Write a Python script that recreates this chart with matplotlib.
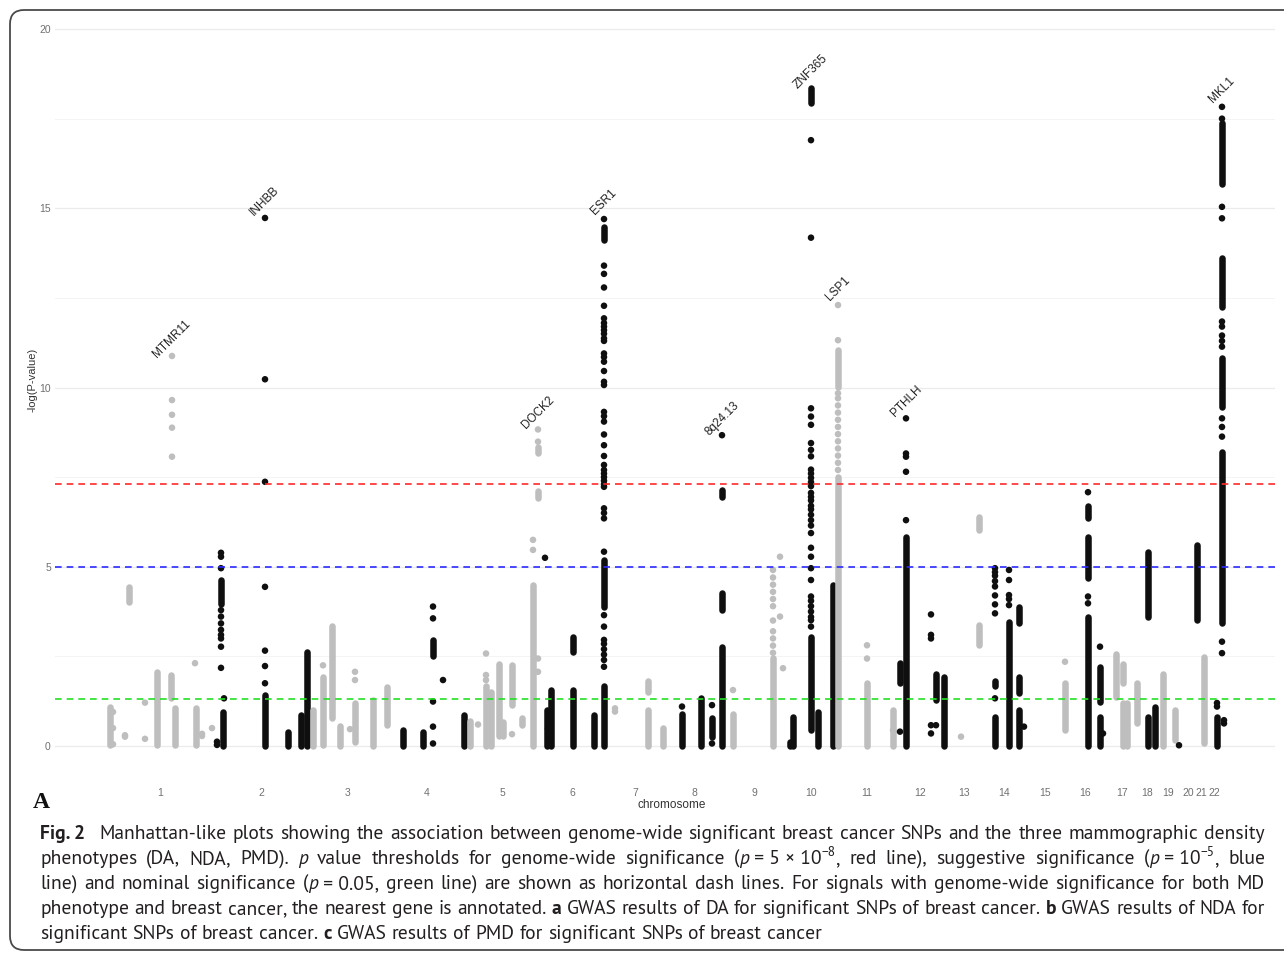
import matplotlib
matplotlib.use("Agg")
import numpy as np
import matplotlib.pyplot as plt
from matplotlib import font_manager
from matplotlib.patches import FancyBboxPatch
from matplotlib.transforms import IdentityTransform
from matplotlib.ticker import MultipleLocator

# chromosome label centres on the cumulative position axis
chrom_ticks = [160, 261, 348, 427, 502, 572, 635, 694, 754, 811, 867, 920,
               964, 1004, 1045, 1085, 1122, 1147, 1168, 1188, 1201, 1214]
chrom_names = [str(c) for c in range(1, 23)]

# dense runs of SNPs: (chromosome, position, lowest, highest -log10 p)
snp_runs = [
    (1, 110, 0.02, 1.10), (1, 129, 4.02, 4.44), (1, 157, 0.02, 2.07), (1, 171, 1.34, 1.98),
    (1, 175, 0.02, 1.07), (1, 196, 0.02, 1.07),
    (2, 221, 3.96, 4.63), (2, 223, 0.00, 0.96), (2, 265, 0.00, 1.43), (2, 288, 0.00, 0.40),
    (2, 301, 0.00, 0.86), (2, 307, 0.00, 2.63),
    (3, 313, 0.00, 1.00), (3, 323, 0.02, 1.93), (3, 332, 0.77, 3.35), (3, 340, 0.00, 0.57),
    (3, 355, 0.10, 1.20), (3, 373, 0.00, 1.28), (3, 387, 0.58, 1.65),
    (4, 403, 0.00, 0.44), (4, 423, 0.00, 0.40), (4, 433, 2.50, 2.96), (4, 464, 0.00, 0.86),
    (5, 470, 0.00, 0.70), (5, 486, 0.00, 1.66), (5, 491, 0.00, 1.50), (5, 499, 0.28, 2.30),
    (5, 503, 0.28, 0.66), (5, 512, 1.13, 2.25), (5, 522, 0.58, 0.77), (5, 533, 0.00, 4.48),
    (5, 538, 6.93, 7.12), (5, 538, 8.16, 8.35),
    (6, 547, 0.00, 1.00), (6, 551, 0.00, 1.56), (6, 573, 0.00, 1.56), (6, 573, 2.63, 3.05),
    (6, 594, 0.00, 0.86), (6, 604, 0.00, 1.66), (6, 604, 3.89, 5.19), (6, 604, 14.11, 14.49),
    (7, 648, 0.00, 1.00), (7, 648, 1.50, 1.80), (7, 663, 0.00, 0.50),
    (8, 682, 0.00, 0.90), (8, 701, 0.00, 1.33), (8, 712, 0.26, 0.77), (8, 722, 0.00, 2.77),
    (8, 722, 3.79, 4.26), (8, 722, 6.95, 7.14),
    (9, 733, 0.00, 0.90), (9, 773, 0.00, 2.45),
    (10, 790, 0.00, 0.10), (10, 793, 0.00, 0.82), (10, 811, 0.45, 3.05), (10, 811, 17.94, 18.35),
    (10, 818, 0.00, 0.96), (10, 833, 0.00, 4.48),
    (11, 838, 0.00, 7.50), (11, 838, 10.02, 11.05), (11, 867, 0.00, 1.75), (11, 893, 0.00, 1.00),
    (12, 900, 1.75, 2.31), (12, 906, 0.00, 5.83), (12, 936, 1.29, 2.00), (12, 944, 0.00, 1.93),
    (13, 979, 6.02, 6.39), (13, 979, 2.81, 3.37),
    (14, 995, 0.00, 0.82), (14, 995, 1.66, 1.80), (14, 1009, 0.00, 3.46), (14, 1019, 0.00, 1.00),
    (14, 1019, 1.47, 1.93), (14, 1019, 3.42, 3.89),
    (15, 1065, 0.45, 1.75),
    (16, 1088, 0.00, 3.61), (16, 1088, 4.70, 5.83), (16, 1088, 6.37, 6.69), (16, 1100, 0.00, 0.82),
    (16, 1100, 1.24, 2.21),
    (17, 1116, 1.38, 2.58), (17, 1123, 0.00, 1.20), (17, 1123, 1.75, 2.30), (17, 1127, 0.00, 1.20),
    (17, 1137, 0.63, 1.75),
    (18, 1148, 0.00, 0.82), (18, 1148, 3.61, 5.42), (18, 1155, 0.00, 1.10),
    (19, 1163, 0.00, 2.02), (19, 1175, 0.17, 1.00),
    (20, 1197, 3.51, 5.60),
    (21, 1204, 0.07, 2.49),
    (22, 1217, 0.00, 0.82), (22, 1222, 3.42, 8.21), (22, 1222, 9.46, 10.81), (22, 1222, 12.25, 13.60),
    (22, 1222, 15.69, 17.37),
]

esr1 = [14.70, 13.40, 13.17, 12.79, 12.28, 11.93, 11.80, 11.70, 11.60, 11.50, 11.37, 11.30,
        10.95, 10.85, 10.72, 10.46, 10.16, 10.07, 9.32, 9.20, 9.05, 8.69, 8.39, 8.09, 7.84,
        7.70, 7.60, 7.50, 7.40, 7.30, 7.23, 6.63, 6.50, 6.35, 5.42, 3.65, 3.33, 2.96, 2.85,
        2.70, 2.55, 2.40, 2.21]
znf365 = [16.90, 14.18, 9.42, 9.19, 8.96, 8.45, 8.26, 8.08, 7.71, 7.60, 7.48, 7.36, 7.25,
          7.06, 6.95, 6.85, 6.70, 6.60, 6.45, 6.30, 6.15, 5.94, 5.53, 5.28, 4.96, 4.63, 4.17,
          4.05, 3.90, 3.75, 3.60, 3.51, 3.33]
mkl1 = [17.83, 17.50, 15.04, 14.72, 11.84, 11.70, 11.45, 11.30, 11.14, 9.14, 8.90, 8.63,
        2.91, 2.59]

# single SNPs: (chromosome, position, [-log10 p values])
snp_points = [
    (1, 113, [0.05, 0.50, 0.95]), (1, 125, [0.26, 0.30]), (1, 145, [0.20, 1.21]),
    (1, 172, [8.07, 8.88, 9.24, 9.65, 10.88]), (1, 195, [2.31]), (1, 202, [0.28, 0.34]),
    (1, 212, [0.50]),
    (2, 217, [0.03, 0.12]), (2, 221, [5.39, 5.28, 4.96, 3.79, 3.61, 3.42, 3.24, 3.10, 3.00, 2.77, 2.18]),
    (2, 224, [1.33]), (2, 265, [14.73, 10.23, 7.37, 4.44, 2.66, 2.23, 1.75]),
    (3, 323, [2.25]), (3, 350, [0.47]), (3, 355, [2.07, 1.84]),
    (4, 433, [3.89, 3.56, 1.24, 0.54, 0.07]), (4, 443, [1.84]),
    (5, 478, [0.60]), (5, 486, [1.84, 1.98, 2.58]), (5, 512, [0.33]), (5, 533, [5.47, 5.75]),
    (5, 538, [8.49, 8.83, 2.44, 2.07]),
    (6, 545, [5.25]), (6, 548, [0.49]), (6, 604, esr1),
    (7, 615, [0.96, 1.05]),
    (8, 682, [1.10]), (8, 712, [1.14, 0.07]), (8, 722, [8.67]),
    (9, 733, [1.56]), (9, 773, [4.91, 4.70, 4.50, 4.30, 4.10, 3.90, 3.50, 3.20, 3.00, 2.80, 2.60]),
    (9, 780, [5.28, 3.61]), (9, 783, [2.17]),
    (10, 811, znf365),
    (11, 838, [12.30, 11.32, 9.84, 9.70, 9.50, 9.30, 9.10, 8.90, 8.70, 8.50, 8.30, 8.10, 7.90, 7.70]),
    (11, 867, [2.81, 2.44]), (11, 893, [0.44]),
    (12, 900, [0.40]), (12, 906, [9.14, 8.16, 8.07, 7.65, 6.30]),
    (12, 931, [3.67, 3.10, 3.00, 0.58, 0.35]), (12, 936, [0.58]),
    (13, 961, [0.26]),
    (14, 995, [4.96, 4.85, 4.75, 4.60, 4.45, 4.20, 3.95, 3.70, 1.33]),
    (14, 1009, [4.91, 4.63, 4.21, 4.10, 3.93]), (14, 1024, [0.54]),
    (15, 1065, [2.35]),
    (16, 1088, [7.08, 4.17, 3.98]), (16, 1100, [2.77]), (16, 1103, [0.35]),
    (20, 1179, [0.02]),
    (22, 1217, [1.20, 1.10]), (22, 1222, mkl1), (22, 1224, [0.72, 0.63]),
]

# nearest genes annotated above the top SNP of a locus: (gene, position)
genes = [("MTMR11", 172), ("INHBB", 265), ("DOCK2", 538), ("ESR1", 604), ("8q24.13", 722),
         ("ZNF365", 811), ("LSP1", 838), ("PTHLH", 906), ("MKL1", 1222)]

# significance thresholds (genome-wide, suggestive, nominal)
p_thresholds = [5e-8, 1e-5, 0.05]
line_colors = ["#ff2a2a", "#2a2aff", "#22e022"]

caption = [
    [("Fig.\u00a02", "b"), ("  Manhattan-like plots showing the association between genome-wide significant "
                            "breast cancer SNPs and the three mammographic density", "n")],
    [("phenotypes (DA, NDA, PMD). ", "n"), ("p", "i"),
     (" value thresholds for genome-wide significance (", "n"), ("p", "i"),
     ("\u00a0=\u00a05\u00a0×\u00a010", "n"), ("−8", "s"), (", red line), suggestive significance (", "n"),
     ("p", "i"), ("\u00a0=\u00a010", "n"), ("−5", "s"), (", blue", "n")],
    [("line) and nominal significance (", "n"), ("p", "i"),
     ("\u00a0=\u00a00.05, green line) are shown as horizontal dash lines. For signals with genome-wide "
      "significance for both MD", "n")],
    [("phenotype and breast cancer, the nearest gene is annotated. ", "n"), ("a", "b"),
     (" GWAS results of DA for significant SNPs of breast cancer. ", "n"), ("b", "b"),
     (" GWAS results of NDA for", "n")],
    [("significant SNPs of breast cancer. ", "n"), ("c", "b"),
     (" GWAS results of PMD for significant SNPs of breast cancer", "n")],
]

W, H = 1284, 956
GREY, BLACK = "#bebebe", "#0f0f0f"

fig = plt.figure(figsize=(W / 100, H / 100), dpi=100)
ax = fig.add_axes([55 / W, 1 - 767.5 / H, 1220 / W, 752.8 / H])
ax.set_xlim(55, 1275)
ax.set_ylim(-0.6, 20.4)

def chrom_color(c):
    return BLACK if c % 2 == 0 else GREY

# dense runs drawn as round-capped bars the width of one dot
for c, pos, lo, hi in snp_runs:
    ax.vlines(pos, lo, hi, colors=chrom_color(c), linewidth=4.7, capstyle="round", zorder=3)

xs, ys, cs = [], [], []
for c, pos, vals in snp_points:
    for v in vals:
        xs.append(pos)
        ys.append(v)
        cs.append(chrom_color(c))
ax.scatter(xs, ys, s=22, c=cs, linewidths=0, zorder=3)

for p, col in zip(p_thresholds, line_colors):
    ax.axhline(-np.log10(p), color=col, lw=1.2, dashes=(4, 3), zorder=4)

for gene, pos in genes:
    top = max([max(v) for c, x, v in snp_points if x == pos] +
              [hi for c, x, lo, hi in snp_runs if x == pos])
    ax.text(pos, top + 0.47, gene, rotation=45, rotation_mode="anchor", ha="center",
            va="center", fontsize=8.5, color="#222222", family="Liberation Sans")

ax.set_xticks(chrom_ticks, chrom_names)
ax.set_yticks([0, 5, 10, 15, 20])
ax.yaxis.set_minor_locator(MultipleLocator(2.5))
ax.tick_params(which="both", length=0, labelsize=7.5, labelcolor="#707070")
ax.tick_params(axis="x", pad=14.5)
ax.tick_params(axis="y", pad=3)
for lab in ax.get_xticklabels() + ax.get_yticklabels():
    lab.set_family("Liberation Sans")
ax.grid(which="major", axis="y", color="#ebebeb", lw=0.9)
ax.grid(which="minor", axis="y", color="#f4f4f4", lw=0.7)
ax.grid(axis="x", visible=False)
ax.set_axisbelow(True)
for s in ax.spines.values():
    s.set_visible(False)

fig.text(32 / W, 1 - 380 / H, "-log(P-value)", rotation=90, ha="center", va="center",
         fontsize=8, color="#333333", family="Liberation Sans")
fig.text(672 / W, 1 - 805 / H, "chromosome", ha="center", va="center",
         fontsize=8.5, color="#333333", family="Liberation Sans")
fig.text(33 / W, 1 - 808 / H, "A", ha="left", va="baseline", fontsize=17,
         fontweight="bold", family="Liberation Serif", color="#111111")

# rounded frame around the whole figure
fig.add_artist(FancyBboxPatch((10, 6), 1320, 940, boxstyle="round,pad=0,rounding_size=14",
                              transform=IdentityTransform(), fill=False,
                              edgecolor="#4a4a4a", linewidth=1.3))

# caption in a Myriad-like face with static regular, bold and italic files
faces = {}
for f in font_manager.fontManager.ttflist:
    if "[" not in f.fname:
        faces.setdefault(f.name, set()).add((f.style, int(f.weight) if str(f.weight).isdigit() else 400))
cap_font = "Liberation Sans"
for name in ["PT Sans", "Source Sans Pro", "Source Sans 3", "Fira Sans", "Open Sans", "Lato"]:
    got = faces.get(name, set())
    if ("normal", 400) in got and ("normal", 700) in got and any(s == "italic" for s, w in got):
        cap_font = name
        break
renderer = fig.canvas.get_renderer()

def style_kw(style, size):
    kw = dict(family=cap_font, fontsize=size, color="#231f20")
    if style == "b":
        kw["fontweight"] = "bold"
    if style == "i":
        kw["fontstyle"] = "italic"
    if style == "s":
        kw["fontsize"] = size * 0.68
    return kw

def text_width(txt, style, size):
    t = fig.text(0, 0, txt, transform=IdentityTransform(), **style_kw(style, size))
    w = t.get_window_extent(renderer).width
    t.remove()
    return w

def split_words(runs):
    words = [[]]
    for txt, style in runs:
        for k, part in enumerate(txt.split(" ")):
            if k > 0 and words[-1]:
                words.append([])
            if part:
                words[-1].append((part, style))
    return [w for w in words if w]

def word_width(word, size):
    return sum(text_width(t, s, size) for t, s in word)

x0, x1 = 40, 1265
base = 10.0
space0 = text_width("n n", "n", base) - text_width("nn", "n", base)
first = split_words(caption[0])
natural = sum(word_width(w, base) for w in first) + space0 * len(first)
size = min(14.5, base * (x1 - x0) / natural * 0.99)
space = space0 * size / base

baselines = [839, 864, 889, 914, 939]
for i, runs in enumerate(caption):
    words = split_words(runs)
    widths = [word_width(w, size) for w in words]
    # the figure number is followed by a wider gap
    extra = 1.6 * space if i == 0 else 0.0
    gap = space
    if i < len(caption) - 1:
        gap = (x1 - x0 - sum(widths) - extra) / (len(words) - 1)
    x = x0
    yb = H - baselines[i]
    for j, w in enumerate(words):
        for txt, style in w:
            dy = size * 0.42 * 100 / 72 if style == "s" else 0
            fig.text(x, yb + dy, txt, transform=IdentityTransform(), ha="left",
                     va="baseline", **style_kw(style, size))
            x += text_width(txt, style, size)
        x += gap + (extra if j == 0 else 0.0)

fig.savefig("out.png", dpi=100)
